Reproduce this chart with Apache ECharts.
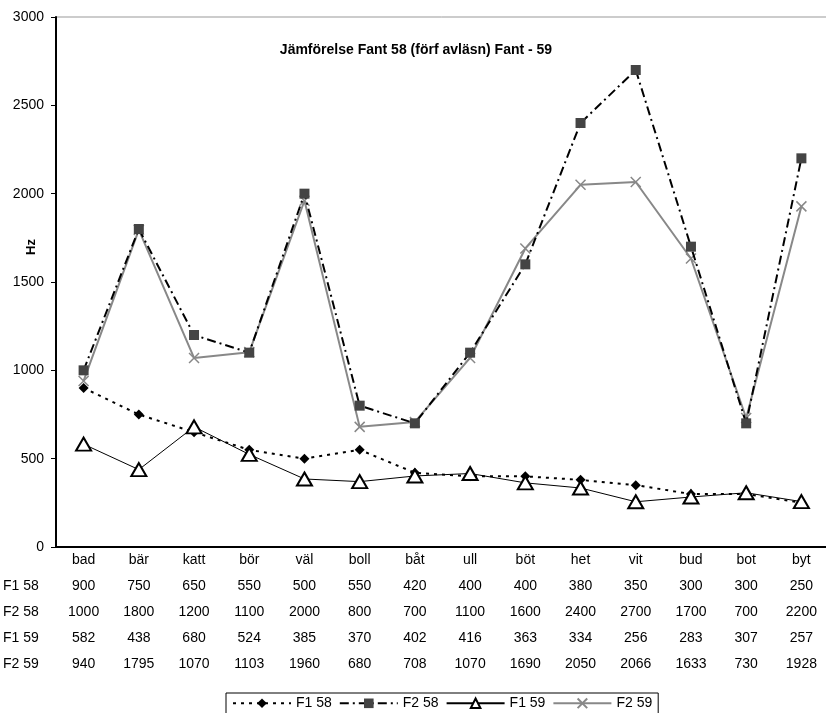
<!DOCTYPE html>
<html><head><meta charset="utf-8">
<script src="https://cdn.jsdelivr.net/npm/echarts@6/dist/echarts.min.js"></script>
<style>html,body{margin:0;padding:0;background:#fff}#c{width:826px;height:713px}</style>
</head><body><div id="c"></div>
<script>
const categories = ['bad','bär','katt','bör','väl','boll','båt','ull','böt','het','vit','bud','bot','byt'];
const seriesNames = ['F1 58','F2 58','F1 59','F2 59'];
const f1_58 = [900,750,650,550,500,550,420,400,400,380,350,300,300,250];
const f2_58 = [1000,1800,1200,1100,2000,800,700,1100,1600,2400,2700,1700,700,2200];
const f1_59 = [582,438,680,524,385,370,402,416,363,334,256,283,307,257];
const f2_59 = [940,1795,1070,1103,1960,680,708,1070,1690,2050,2066,1633,730,1928];
const yTicks = {min:0, max:3000, interval:500};
const titleText = 'Jämförelse Fant 58 (förf avläsn) Fant - 59';
const yName = 'Hz';

const allData = [f1_58, f2_58, f1_59, f2_59];
const FONT = 'Liberation Sans, Arial, sans-serif';
const chart = echarts.init(document.getElementById('c'), null, {renderer:'canvas'});

const rowY = [586, 612, 638, 664];
const graphics = seriesNames.map((n, i) => ({
  type:'text', x: 3, y: rowY[i],
  style:{text:n, font:'14px ' + FONT, fill:'#000', textVerticalAlign:'middle', verticalAlign:'middle'}
}));
graphics.push({
  type:'text', x:31, y:247, rotation:Math.PI/2,
  style:{text:yName, font:'bold 13px ' + FONT, fill:'#000', align:'center', verticalAlign:'middle',
    textAlign:'center', textVerticalAlign:'middle'}
});

chart.setOption({
  animation:false,
  backgroundColor:'#fff',
  title:{text:titleText, left:411, top:38, textAlign:'center',
    textStyle:{fontFamily:FONT, fontSize:14, fontWeight:'bold', color:'#000'}},
  grid:{left:56, top:17, width:773, bottom:166, show:true, borderColor:'#999', borderWidth:1,
    containLabel:false, outerBoundsMode:'none'},
  legend:{
    data:seriesNames, left:226, top:693, padding:[3,6,4,6],
    borderColor:'#000', borderWidth:1, itemWidth:58, itemHeight:12, itemGap:7,
    textStyle:{fontFamily:FONT, fontSize:14, color:'#000'}
  },
  xAxis:{type:'category', data:categories, boundaryGap:true,
    axisLine:{lineStyle:{color:'#000', width:2}}, axisTick:{show:false},
    axisLabel:{
      margin:0, fontFamily:FONT, fontSize:14, color:'#000', lineHeight:26,
      formatter:(v, idx) => [v].concat(allData.map(a => a[idx])).join('\n')
    }
  },
  yAxis:{type:'value', min:yTicks.min, max:yTicks.max, interval:yTicks.interval,
    axisLine:{show:true, lineStyle:{color:'#000', width:2}},
    axisTick:{show:true, length:5, lineStyle:{color:'#000'}},
    splitLine:{show:false},
    axisLabel:{margin:12, fontFamily:FONT, fontSize:14, color:'#000', formatter:v => String(v)}
  },
  graphic:graphics,
  series:[
    {name:seriesNames[0], type:'line', data:f1_58, symbol:'diamond', symbolSize:10,
      lineStyle:{color:'#000', width:2, type:[3,5]}, itemStyle:{color:'#000'}, z:3},
    {name:seriesNames[1], type:'line', data:f2_58, symbol:'rect', symbolSize:10,
      lineStyle:{color:'#000', width:2, type:[9,4,2,4]}, itemStyle:{color:'#444'}, z:2},
    {name:seriesNames[2], type:'line', data:f1_59, symbol:'triangle', symbolSize:[15,13],
      lineStyle:{color:'#000', width:1}, itemStyle:{color:'#fff', borderColor:'#000', borderWidth:2}, z:4},
    {name:seriesNames[3], type:'line', data:f2_59, symbol:'path://M0,0 L10,10 M10,0 L0,10', symbolSize:10,
      lineStyle:{color:'#888', width:2}, itemStyle:{color:'none', borderColor:'#888', borderWidth:1.5}, z:1}
  ]
});
</script></body></html>
